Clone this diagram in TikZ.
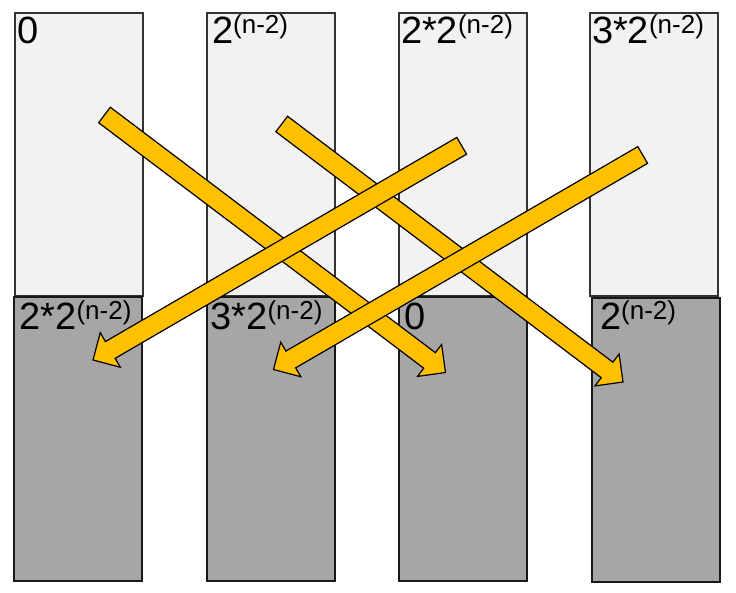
\documentclass[tikz,border=0pt]{standalone}
\usepackage{fontspec}
\setmainfont{Liberation Sans}
\usetikzlibrary{calc}
\definecolor{topfill}{HTML}{F2F2F2}
\definecolor{botfill}{HTML}{A6A6A6}
\definecolor{arrowfill}{HTML}{FFC000}
\newcommand{\supx}[1]{\raisebox{10pt}{\fontsize{26}{26}\selectfont #1}}
\newcommand{\blockarrow}[2]{%
  \coordinate (ba-base) at ($(#2)!20pt!(#1)$);
  \draw[blockarrowstyle] ($(#1)!9.7pt!90:(#2)$) -- ($(ba-base)!9.7pt!-90:(#1)$)
    -- ($(ba-base)!20pt!-90:(#1)$) -- (#2) -- ($(ba-base)!20pt!90:(#1)$)
    -- ($(ba-base)!9.7pt!90:(#1)$) -- ($(#1)!9.7pt!-90:(#2)$) -- cycle;
}
\tikzset{
  topbox/.style={draw=black!80, fill=topfill, line width=1.2pt, minimum width=128pt,
    minimum height=283pt, inner sep=0pt, outer sep=0pt, anchor=north west},
  botbox/.style={draw=black!90, fill=botfill, line width=1.5pt, minimum width=128pt,
    minimum height=284pt, inner sep=0pt, outer sep=0pt, anchor=north west},
  lbl/.style={anchor=base west, inner sep=0pt, outer sep=0pt, text=black,
    font=\fontsize{38}{40}\selectfont},
  blockarrowstyle/.style={draw=black, fill=arrowfill, line width=1.2pt, line join=miter},
}
\begin{document}
\begin{tikzpicture}[x=1pt, y=-1pt]
\useasboundingbox (0,0) rectangle (736,593);
% top boxes
\node[topbox] (t1) at (15,13) {};
\node[topbox] (t2) at (207,13) {};
\node[topbox] (t3) at (399,13) {};
\node[topbox] (t4) at (590,13) {};
% bottom boxes
\node[botbox] (b1) at (14,297) {};
\node[botbox] (b2) at (207,297) {};
\node[botbox] (b3) at (399,297) {};
\node[botbox] (b4) at (592,298) {};
% labels
\node[lbl] (lt1) at (17.5,43.5) {0};
\node[lbl] (lt2) at (212,43.5) {2\supx{(n-2)}};
\node[lbl] (lt3) at (401,43.5) {2*2\supx{(n-2)}};
\node[lbl] (lt4) at (592,43.5) {3*2\supx{(n-2)}};
\node[lbl] (lb1) at (19.5,329.5) {2*2\supx{(n-2)}};
\node[lbl] (lb2) at (210.5,329.5) {3*2\supx{(n-2)}};
\node[lbl] (lb3) at (404.5,329.5) {0};
\node[lbl] (lb4) at (600,329.5) {2\supx{(n-2)}};
% arrow end points
\coordinate (a1s) at (104.5,115);
\coordinate (a1e) at (445.5,372.5);
\coordinate (a2s) at (281.7,124);
\coordinate (a2e) at (623,382);
\coordinate (a3s) at (461.7,145.8);
\coordinate (a3e) at (93,360);
\coordinate (a4s) at (642.7,155);
\coordinate (a4e) at (273.5,369.5);
% arrows
\blockarrow{a1s}{a1e}
\blockarrow{a2s}{a2e}
\blockarrow{a3s}{a3e}
\blockarrow{a4s}{a4e}
\end{tikzpicture}
\end{document}
